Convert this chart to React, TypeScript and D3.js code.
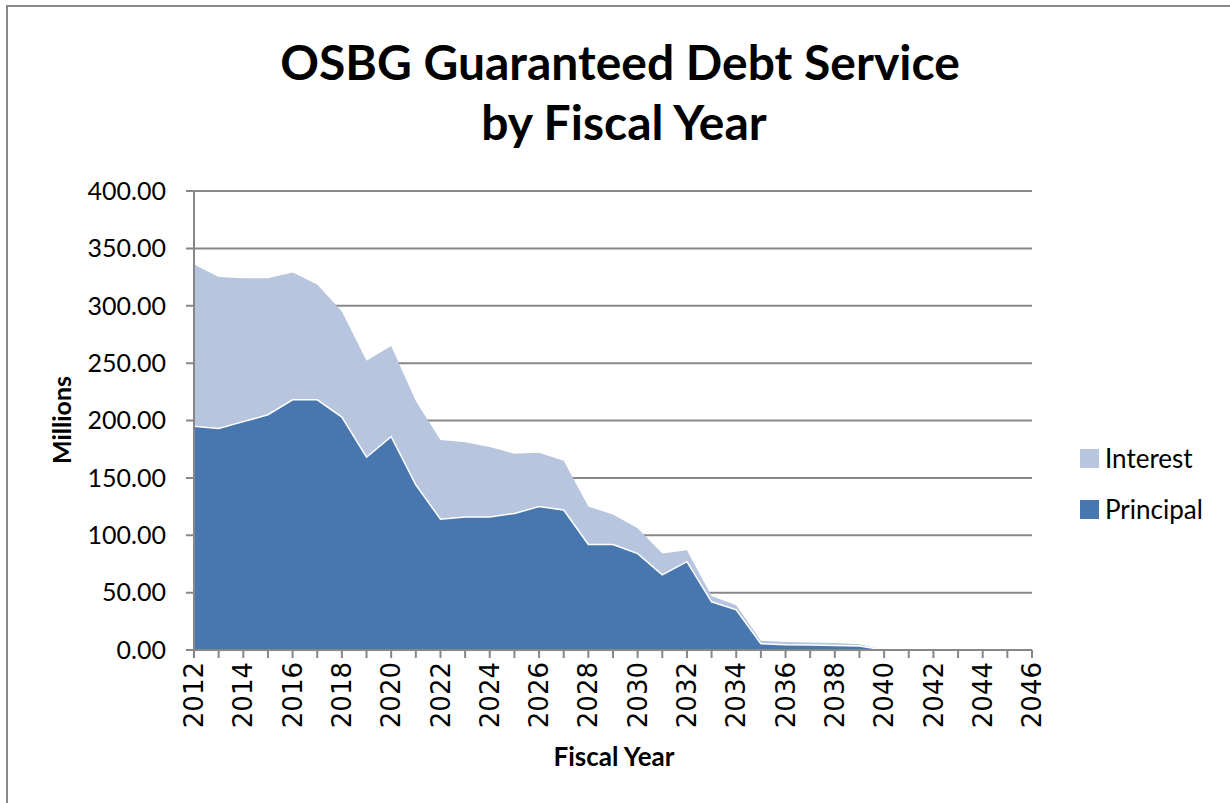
import React from "react";
import * as d3 from "d3";

const years: number[] = d3.range(2012, 2047);
const principal: number[] = [
  195, 193, 199, 205, 218, 218, 203, 168, 186, 144, 114, 116, 116, 119, 125, 122, 92, 92, 84, 65.5,
  77, 42, 35, 5.5, 4.6, 4.3, 4, 3.5, 0, 0, 0, 0, 0, 0, 0,
];
const interest: number[] = [
  141, 132, 125, 119, 111, 100.5, 92, 84, 79, 73, 69, 65, 61, 52, 47, 43, 33, 26, 22, 18.5,
  10, 5, 4, 2.5, 2.4, 2.2, 2, 1.5, 0, 0, 0, 0, 0, 0, 0,
];
const yTicks: number[] = [0, 50, 100, 150, 200, 250, 300, 350, 400];
const xLabelYears: number[] = d3.range(2012, 2047, 2);
const seriesNames = ["Principal", "Interest"];
const colors: Record<string, string> = { Principal: "#4877AF", Interest: "#B7C5DE" };

export default function App() {
  const W = 1230, H = 803;
  const x = d3.scaleLinear().domain([2012, 2046]).range([194, 1032]);
  const y = d3.scaleLinear().domain([0, 400]).range([650, 191]);
  const rows = years.map((yr, i) => ({ year: yr, Principal: principal[i], Interest: interest[i] }));
  const stack = d3.stack<any>().keys(seriesNames);
  const layers = stack(rows);
  const area = d3
    .area<any>()
    .x((d) => x(d.data.year))
    .y0((d) => y(d[0]))
    .y1((d) => y(d[1]));
  const topLine = d3
    .line<any>()
    .x((d) => x(d.data.year))
    .y((d) => y(d[1]));
  const grid = "#878787";
  const font = "Lato, 'Open Sans', sans-serif";

  return (
    <svg width={W} height={H} style={{ position: "absolute", left: 0, top: 0, background: "#fff" }}>
      <rect x={7} y={6} width={W + 20} height={H + 20} fill="#fff" stroke="#888" strokeWidth={2} />
      <text x={620} y={80} textAnchor="middle" fontFamily={font} fontWeight="bold" fontSize={48} fill="#000">
        OSBG Guaranteed Debt Service
      </text>
      <text x={624} y={140} textAnchor="middle" fontFamily={font} fontWeight="bold" fontSize={48} fill="#000">
        by Fiscal Year
      </text>
      {yTicks.map((t) => (
        <g key={t}>
          <line x1={186} x2={1032} y1={y(t)} y2={y(t)} stroke={grid} strokeWidth={2} />
          <text x={166} y={y(t)} dy="0.35em" textAnchor="end" fontFamily={font} fontSize={25} fill="#000">
            {t.toFixed(2)}
          </text>
        </g>
      ))}
      {layers.map((layer) => (
        <path key={layer.key} d={area(layer) || ""} fill={colors[layer.key]} />
      ))}
      <path d={topLine(layers[0]) || ""} fill="none" stroke="#fff" strokeWidth={1.5} />
      <line x1={194} x2={194} y1={191} y2={650} stroke={grid} strokeWidth={2} />
      <line x1={186} x2={1032} y1={650} y2={650} stroke={grid} strokeWidth={2} />
      {years.map((yr) => (
        <line key={yr} x1={x(yr)} x2={x(yr)} y1={650} y2={658} stroke={grid} strokeWidth={2} />
      ))}
      {xLabelYears.map((yr) => (
        <text
          key={yr}
          transform={`translate(${x(yr)},662) rotate(-90)`}
          textAnchor="end"
          dy="0.35em"
          fontFamily="'DejaVu Sans', sans-serif"
          fontSize={26}
          fill="#000"
        >
          {yr}
        </text>
      ))}
      <text x={614} y={766} textAnchor="middle" fontFamily={font} fontWeight="bold" fontSize={26} fill="#000">
        Fiscal Year
      </text>
      <text
        transform="translate(71,420) rotate(-90)"
        textAnchor="middle"
        fontFamily={font}
        fontWeight="bold"
        fontSize={25}
        fill="#000"
      >
        Millions
      </text>
      {["Interest", "Principal"].map((k, i) => (
        <g key={k}>
          <rect x={1080} y={449 + i * 51} width={19} height={19} fill={colors[k]} />
          <text x={1105} y={468 + i * 51} fontFamily={font} fontSize={26} fill="#000">
            {k}
          </text>
        </g>
      ))}
    </svg>
  );
}
